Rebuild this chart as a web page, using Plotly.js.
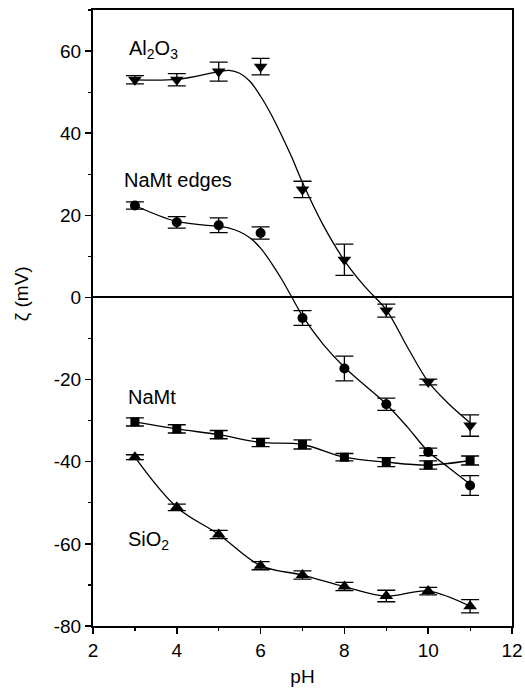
<!DOCTYPE html>
<html>
<head>
<meta charset="utf-8">
<script src="https://cdn.plot.ly/plotly-3.0.1.min.js"></script>
<style>html,body{margin:0;padding:0;background:#fff;}#chart{width:525px;height:688px;}</style>
</head>
<body>
<div id="chart"></div>
<script>
// pH values of measurements
const pH = [3, 4, 5, 6, 7, 8, 9, 10, 11];

// Zeta potentials (mV) and error bars
const al2o3 = [53, 53, 55, 56.2, 26.3, 9.2, -3.2, -20.6, -31.2];
const al2o3Err = [1, 1.5, 2.3, 2, 2, 3.8, 1.6, 0.7, 2.6];

const edges = [22.4, 18.3, 17.6, 15.7, -5, -17.3, -26, -37.6, -45.8];
const edgesErr = [0.9, 1.4, 1.8, 1.5, 1.8, 3, 1.5, 0.9, 2.4];

const namt = [-30.3, -32, -33.4, -35.3, -35.8, -38.9, -40.1, -40.8, -39.7];
const namtErr = [1, 1, 1, 1, 1.1, 0.9, 1.1, 1, 1.1];

const sio2 = [-38.9, -51.1, -57.7, -65.3, -67.6, -70.4, -72.7, -71.5, -75.2];
const sio2Err = [0.6, 0.8, 1, 1, 1, 1, 1.4, 0.9, 1.6];

// Fitted curves
const alCurveX = [3, 4, 5, 5.25, 5.5, 5.75, 6, 6.25, 6.5, 6.75, 7, 7.5, 8, 8.5, 9, 9.5, 10, 10.5, 11];
const alCurveY = [53, 53.1, 55, 55.3, 54.6, 52.6, 49, 44.6, 39.5, 34, 28, 17.5, 9, 2.5, -3, -12, -20.5, -26, -30.5];
const edCurveX = [3, 4, 5, 5.25, 5.5, 5.75, 6, 6.25, 6.5, 6.75, 7, 7.5, 8, 8.5, 9, 9.5, 10, 10.5, 11];
const edCurveY = [22.4, 18.5, 17.3, 16.9, 16, 14.5, 12, 8.5, 4.5, 0, -4.5, -11.5, -17, -21.5, -26, -31.5, -37.5, -41.5, -45.5];

// Axis ticks and labels
const xTicks = [2, 4, 6, 8, 10, 12];
const yTicks = [-80, -60, -40, -20, 0, 20, 40, 60];
const seriesLabels = ['Al<sub>2</sub>O<sub>3</sub>', 'NaMt edges', 'NaMt', 'SiO<sub>2</sub>'];
const labelX = [2.8, 2.7, 2.78, 2.78];
const labelY = [60.5, 28.5, -24.3, -59.3];

const FONT = 'Liberation Sans, Arial, Helvetica, sans-serif';

function pts(y, err, symbol, size) {
  return {
    x: pH, y: y, type: 'scatter', mode: 'markers',
    marker: {symbol: symbol, size: size, color: '#000'},
    error_y: {type: 'data', array: err, visible: true, color: '#000', thickness: 1.3, width: 9},
    showlegend: false, hoverinfo: 'x+y'
  };
}
function curve(x, y) {
  return {x: x, y: y, type: 'scatter', mode: 'lines',
    line: {color: '#000', width: 1.3, shape: 'spline', smoothing: 1},
    showlegend: false, hoverinfo: 'skip'};
}

const data = [
  curve(alCurveX, alCurveY),
  curve(edCurveX, edCurveY),
  curve(pH, namt),
  curve(pH, sio2),
  pts(al2o3, al2o3Err, 'triangle-down', 12),
  pts(edges, edgesErr, 'circle', 10),
  pts(namt, namtErr, 'square', 9),
  pts(sio2, sio2Err, 'triangle-up', 12)
];

const annotations = seriesLabels.map((t, i) => ({
  x: labelX[i], y: labelY[i], xref: 'x', yref: 'y', text: t, showarrow: false,
  xanchor: 'left', yanchor: 'middle', font: {family: FONT, size: 20, color: '#000'}
}));
annotations.push({
  x: -0.17, y: 1, xref: 'paper', yref: 'y', text: 'ζ (mV)', textangle: -90, showarrow: false,
  xanchor: 'center', yanchor: 'middle', font: {family: FONT, size: 19, color: '#000'}
});

const layout = {
  width: 525, height: 688,
  margin: {l: 93, r: 13, t: 10, b: 62},
  paper_bgcolor: '#fff', plot_bgcolor: '#fff',
  font: {family: FONT, size: 19, color: '#000'},
  xaxis: {
    range: [2, 12], tickvals: xTicks, ticktext: xTicks.map(String),
    tickfont: {family: FONT, size: 19},
    showgrid: false, zeroline: false, showline: true, linecolor: '#000', linewidth: 2, mirror: true,
    ticks: 'outside', ticklen: 6, tickwidth: 1.5, tickcolor: '#000',
    minor: {dtick: 1, ticks: 'outside', ticklen: 3, tickwidth: 1.2, tickcolor: '#000', showgrid: false},
    title: {text: 'pH', font: {family: FONT, size: 19}, standoff: 10}
  },
  yaxis: {
    range: [-80, 70], tickvals: yTicks, ticktext: yTicks.map(String),
    tickfont: {family: FONT, size: 19},
    showgrid: false, zeroline: true, zerolinecolor: '#000', zerolinewidth: 2,
    showline: true, linecolor: '#000', linewidth: 2, mirror: true,
    ticks: 'outside', ticklen: 6, tickwidth: 1.5, tickcolor: '#000',
    minor: {dtick: 10, ticks: 'outside', ticklen: 3, tickwidth: 1.2, tickcolor: '#000', showgrid: false}
  },
  annotations: annotations
};

Plotly.newPlot('chart', data, layout, {staticPlot: true});
</script>
</body>
</html>
